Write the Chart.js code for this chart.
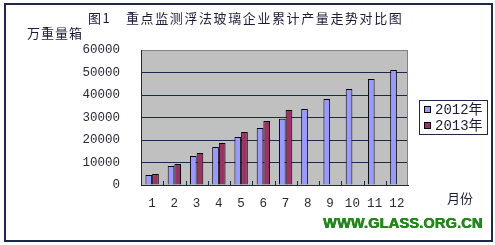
<!DOCTYPE html>
<html>
<head>
<meta charset="utf-8">
<script src="https://cdn.jsdelivr.net/npm/chart.js"></script>
<style>
  body { margin:0; background:#fff; }
  #wrap { position:relative; width:495px; height:245px; }
  #frame { position:absolute; left:4px; top:3px; width:485px; height:235px; border:2px solid #1c2a4a; }
  .txt { position:absolute; font-family:"Noto Sans CJK SC", sans-serif; color:#1c1c3a; white-space:nowrap; }
  #title { left:88px; top:10px; font-size:13px; letter-spacing:1.6px; line-height:16px; }
  #unit { left:27px; top:25px; font-size:13px; letter-spacing:1px; line-height:16px; }
  #month { left:447px; top:190px; font-size:13px; line-height:16px; }
  #legend { position:absolute; left:419px; top:100px; width:67px; height:33px; border:1px solid #1c2a4a; background:#fff; }
  .item { position:absolute; left:4px; font-family:"Liberation Mono", "Noto Sans CJK SC", monospace; font-size:14px; line-height:16px; color:#1c1c3a; }
  .item span { display:inline-block; width:5px; height:5px; border:1px solid #000; margin-right:4px; vertical-align:1px; }
  #mark { position:absolute; left:323px; top:215px; font-family:"Liberation Sans", Arial, sans-serif; font-weight:bold; font-size:14.5px; color:#23881a; text-shadow:0.6px 0 0 #23881a, 0 0.4px 0 #1b6e14; letter-spacing:0.2px; }
</style>
</head>
<body>
<div id="wrap">
  <canvas id="c" width="495" height="245"></canvas>
  <div id="frame"></div>
  <div class="txt" id="title">图1　重点监测浮法玻璃企业累计产量走势对比图</div>
  <div class="txt" id="unit">万重量箱</div>
  <div class="txt" id="month">月份</div>
  <div id="legend"></div>
  <div id="mark">WWW.GLASS.ORG.CN</div>
</div>
<script>
var months = ['1','2','3','4','5','6','7','8','9','10','11','12'];
var seriesNames = ['2012年','2013年'];
var colors = ['#9999ff','#993366'];
var data2012 = [4400, 8400, 12900, 16900, 21300, 25300, 29500, 33800, 38200, 42700, 47100, 51100];
var data2013 = [4900, 9300, 14200, 18700, 23600, 28500, 33300, null, null, null, null, null];

var legend = document.getElementById('legend');
var leg = '';
for (let i = 0; i < seriesNames.length; i++) {
  leg += "<div class='item' style='top:" + (1 + i*16) + "px'><span style='background:" + colors[i] + "'></span>" + seriesNames[i] + "</div>";
}
legend.innerHTML = leg;

var plotBg = {
  id: 'plotBg',
  beforeDraw(chart) {
    var a = chart.chartArea, ctx = chart.ctx;
    ctx.save();
    ctx.fillStyle = '#c0c0c0';
    ctx.fillRect(a.left, a.top, a.right - a.left, a.bottom - a.top);
    ctx.restore();
  },
  afterDraw(chart) {
    var a = chart.chartArea, ctx = chart.ctx, x = chart.scales.x;
    ctx.save();
    ctx.strokeStyle = '#808080';
    ctx.lineWidth = 1;
    ctx.beginPath();
    ctx.moveTo(a.right - 0.5, a.top);
    ctx.lineTo(a.right - 0.5, a.bottom);
    ctx.stroke();
    // small inward ticks between months
    ctx.strokeStyle = '#1c2a4a';
    ctx.beginPath();
    var w = (a.right - a.left) / months.length;
    for (let i = 1; i < months.length; i++) {
      var px = Math.round(x.getPixelForValue(i) - w/2) + 0.5;
      ctx.moveTo(px, a.bottom);
      ctx.lineTo(px, a.bottom - 4);
    }
    ctx.stroke();
    ctx.restore();
  }
};

new Chart(document.getElementById('c'), {
  type: 'bar',
  data: {
    labels: months,
    datasets: [
      { label: seriesNames[0], data: data2012, backgroundColor: colors[0], borderColor: '#000', borderWidth: 1, borderSkipped: 'bottom' },
      { label: seriesNames[1], data: data2013, backgroundColor: colors[1], borderColor: '#000', borderWidth: 1, borderSkipped: 'bottom' }
    ]
  },
  options: {
    responsive: false,
    animation: false,
    events: [],
    categoryPercentage: 0.6,
    barPercentage: 1,
    layout: { padding: { left: 0, top: 50, right: 87, bottom: 32 } },
    plugins: { legend: { display: false }, tooltip: { enabled: false } },
    scales: {
      x: {
        afterFit(s) { s.height = 28; },
        grid: { display: false, drawTicks: false },
        border: { display: true, color: '#1c2a4a', width: 1 },
        ticks: { padding: 11, color: '#2a2a3a', font: { family: 'Liberation Mono', size: 12.5 }, maxRotation: 0, autoSkip: false }
      },
      y: {
        min: 0,
        max: 60000,
        afterFit(s) { s.width = 141; },
        grid: { drawTicks: false, color: (c) => c.tick.value === 60000 ? '#808080' : '#1c2a4a', lineWidth: 1 },
        border: { display: true, color: '#1c2a4a', width: 1 },
        ticks: { stepSize: 10000, padding: 21, color: '#2a2a3a', font: { family: 'Liberation Mono', size: 12.5 }, callback: (v) => String(v) }
      }
    }
  },
  plugins: [plotBg]
});
</script>
</body>
</html>
